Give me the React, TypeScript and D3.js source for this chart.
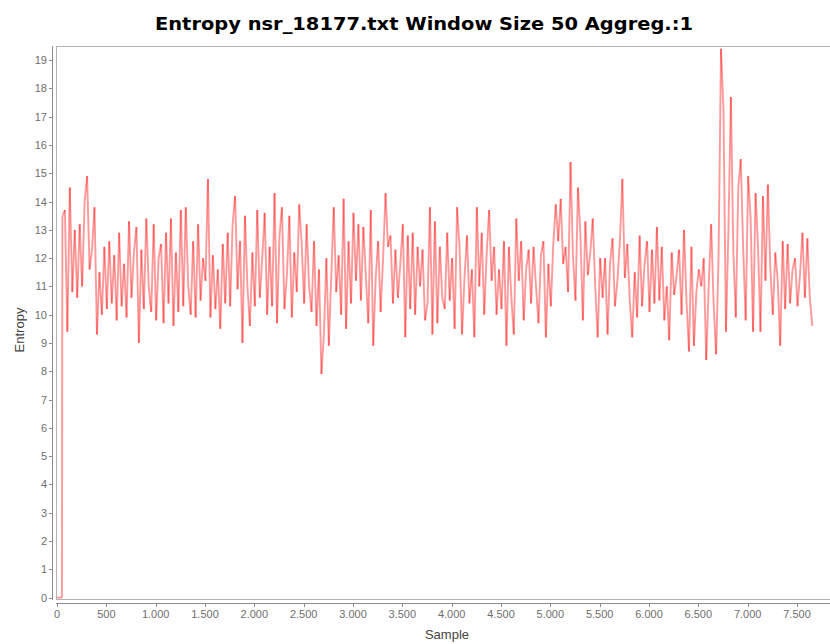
import React from "react";
import * as d3 from "d3";

// Chart text
const TITLE = "Entropy nsr_18177.txt Window Size 50 Aggreg.:1";
const X_LABEL = "Sample";
const Y_LABEL = "Entropy";

// Axis ticks
const X_TICKS = [0, 500, 1000, 1500, 2000, 2500, 3000, 3500, 4000, 4500, 5000, 5500, 6000, 6500, 7000, 7500];
const Y_TICKS = [0, 1, 2, 3, 4, 5, 6, 7, 8, 9, 10, 11, 12, 13, 14, 15, 16, 17, 18, 19];

// Leading samples before the first full window (entropy 0)
const LEAD_SAMPLES = [0, 50];
const LEAD_VALUES = [0, 0];

// Windowed entropy, one value every SAMPLE_STEP samples from FIRST_SAMPLE
const FIRST_SAMPLE = 55;
const SAMPLE_STEP = 25;
const ENTROPY = [
  13.5, 13.7, 9.4, 14.5, 10.8, 13.0, 10.6, 13.2, 11.0, 14.0,
  14.9, 11.6, 12.3, 13.8, 9.3, 11.5, 10.0, 12.4, 10.2, 12.6,
  10.4, 12.1, 9.8, 12.9, 10.3, 11.8, 9.9, 13.3, 10.6, 12.2,
  13.1, 9.0, 12.3, 10.2, 13.4, 11.0, 10.1, 13.2, 9.8, 12.0,
  12.5, 9.7, 12.9, 10.4, 13.4, 9.6, 12.2, 10.1, 13.7, 10.3,
  13.8, 11.0, 10.0, 12.6, 9.9, 13.2, 10.5, 12.0, 11.2, 14.8,
  9.9, 12.1, 10.2, 11.6, 9.5, 12.5, 10.4, 12.9, 10.3, 13.2,
  14.2, 10.9, 12.6, 9.0, 13.5, 11.0, 9.6, 12.2, 10.3, 13.7,
  10.6, 12.0, 13.6, 10.0, 12.4, 10.3, 14.3, 9.7, 12.8, 13.8,
  10.2, 11.4, 13.5, 9.9, 12.2, 10.8, 13.9, 12.5, 10.4, 13.2,
  11.0, 10.1, 12.6, 9.6, 11.6, 7.9, 9.3, 12.0, 8.9, 11.4,
  13.8, 10.8, 12.1, 10.0, 14.1, 9.5, 12.6, 10.4, 13.6, 11.2,
  13.2, 10.5, 13.1, 11.4, 9.7, 13.7, 8.9, 11.3, 12.6, 10.1,
  12.0, 14.3, 12.4, 12.8, 10.4, 12.3, 10.6, 11.8, 13.2, 9.2,
  12.8, 10.2, 12.9, 10.0, 12.4, 11.0, 12.3, 9.8, 10.4, 13.8,
  9.3, 13.3, 9.7, 12.4, 10.6, 10.2, 12.9, 10.5, 12.0, 9.5,
  13.8, 12.4, 9.3, 11.3, 12.8, 10.4, 11.6, 9.2, 13.8, 11.0,
  12.9, 10.0, 12.2, 13.7, 11.2, 12.4, 10.0, 11.6, 10.2, 12.6,
  8.9, 12.4, 10.6, 9.3, 13.4, 11.2, 12.6, 9.8, 11.6, 12.3,
  10.4, 12.4, 11.0, 9.7, 12.1, 12.6, 9.2, 11.8, 10.3, 12.5,
  13.9, 12.6, 14.1, 11.8, 12.4, 10.8, 15.4, 12.0, 10.5, 14.5,
  12.8, 9.8, 13.3, 11.4, 12.2, 13.4, 11.0, 9.2, 12.0, 10.6,
  12.0, 9.3, 11.8, 12.7, 10.3, 11.2, 12.6, 14.8, 11.3, 12.5,
  10.5, 9.2, 11.5, 9.9, 12.8, 10.3, 11.8, 12.6, 10.1, 12.3,
  10.4, 13.1, 10.5, 12.4, 9.8, 11.0, 9.1, 12.2, 10.7, 11.4,
  12.3, 10.0, 13.0, 10.5, 8.7, 12.4, 8.9, 10.8, 11.6, 11.0,
  12.0, 8.4, 11.0, 13.2, 10.4, 8.6, 12.0, 19.4, 17.2, 9.4,
  13.0, 17.7, 12.2, 9.9, 14.5, 15.5, 12.3, 9.8, 14.9, 13.4,
  9.4, 14.3, 12.4, 9.4, 14.2, 11.2, 14.6, 11.6, 10.0, 12.2,
  11.2, 8.9, 12.6, 10.2, 12.5, 10.4, 11.6, 12.0, 10.3, 11.4,
  12.9, 10.6, 12.7, 10.6, 9.6,
];

const W = 830;
const H = 644;
const PLOT = { left: 56, top: 46, right: 838, bottom: 599 };

const x = d3.scaleLinear().domain([0, 7500]).range([57, 797]);
const y = d3.scaleLinear().domain([-0.05, 19.5]).range([PLOT.bottom, PLOT.top]);

const fmtThousands = (v: number) => d3.format(",")(v).replace(/,/g, ".");

export default function App() {
  const points: [number, number][] = [
    ...LEAD_SAMPLES.map((s, i) => [s, LEAD_VALUES[i]] as [number, number]),
    ...ENTROPY.map((v, i) => [FIRST_SAMPLE + i * SAMPLE_STEP, v] as [number, number]),
  ];
  const segments = d3.pairs(points);

  const tickFont = "'Liberation Sans', Arial, sans-serif";

  return (
    <svg
      width={W}
      height={H}
      style={{ position: "absolute", left: 0, top: 0, background: "#fff" }}
    >
      <rect x={0} y={0} width={W} height={H} fill="#fff" />
      <text
        x={424}
        y={29.5}
        textAnchor="middle"
        fontFamily="'DejaVu Sans', sans-serif"
        fontWeight="bold"
        fontSize={17}
        fill="#000"
        textLength={538}
        lengthAdjust="spacingAndGlyphs"
      >
        {TITLE}
      </text>

      <defs>
        <clipPath id="plot-clip">
          <rect x={PLOT.left} y={PLOT.top} width={PLOT.right - PLOT.left} height={PLOT.bottom - PLOT.top} />
        </clipPath>
      </defs>

      {/* plot frame */}
      <rect
        x={PLOT.left + 0.5}
        y={PLOT.top + 0.5}
        width={PLOT.right - PLOT.left}
        height={PLOT.bottom - PLOT.top}
        fill="#fff"
        stroke="#b4b4b4"
        strokeWidth={1}
      />

      {/* entropy trace: one segment per step so overlapping strokes deepen */}
      <g clipPath="url(#plot-clip)">
        {segments.map(([a, b], i) => (
          <line
            key={i}
            x1={x(a[0])}
            y1={y(a[1])}
            x2={x(b[0])}
            y2={y(b[1])}
            stroke="#ff0000"
            strokeOpacity={0.4}
            strokeWidth={1.9}
          />
        ))}
      </g>

      {/* y axis */}
      <line x1={52.5} y1={PLOT.top} x2={52.5} y2={PLOT.bottom + 1} stroke="#8c8c8c" />
      {Y_TICKS.map((t) => (
        <g key={t}>
          <line x1={49} x2={52.5} y1={Math.round(y(t)) + 0.5} y2={Math.round(y(t)) + 0.5} stroke="#8c8c8c" />
          <text
            x={47}
            y={y(t) + 4}
            textAnchor="end"
            fontFamily={tickFont}
            fontSize={11}
            fill="#6e6e6e"
          >
            {t}
          </text>
        </g>
      ))}

      {/* x axis */}
      <line x1={PLOT.left} y1={603.5} x2={W} y2={603.5} stroke="#8c8c8c" />
      {X_TICKS.map((t) => (
        <g key={t}>
          <line x1={Math.round(x(t)) + 0.5} x2={Math.round(x(t)) + 0.5} y1={603.5} y2={607} stroke="#8c8c8c" />
          <text
            x={x(t)}
            y={618}
            textAnchor="middle"
            fontFamily={tickFont}
            fontSize={11}
            fill="#6e6e6e"
          >
            {fmtThousands(t)}
          </text>
        </g>
      ))}

      <text
        x={447}
        y={639}
        textAnchor="middle"
        fontFamily={tickFont}
        fontSize={13}
        fill="#444"
      >
        {X_LABEL}
      </text>
      <text
        transform={`translate(24,330) rotate(-90)`}
        textAnchor="middle"
        fontFamily={tickFont}
        fontSize={13}
        fill="#444"
      >
        {Y_LABEL}
      </text>
    </svg>
  );
}
